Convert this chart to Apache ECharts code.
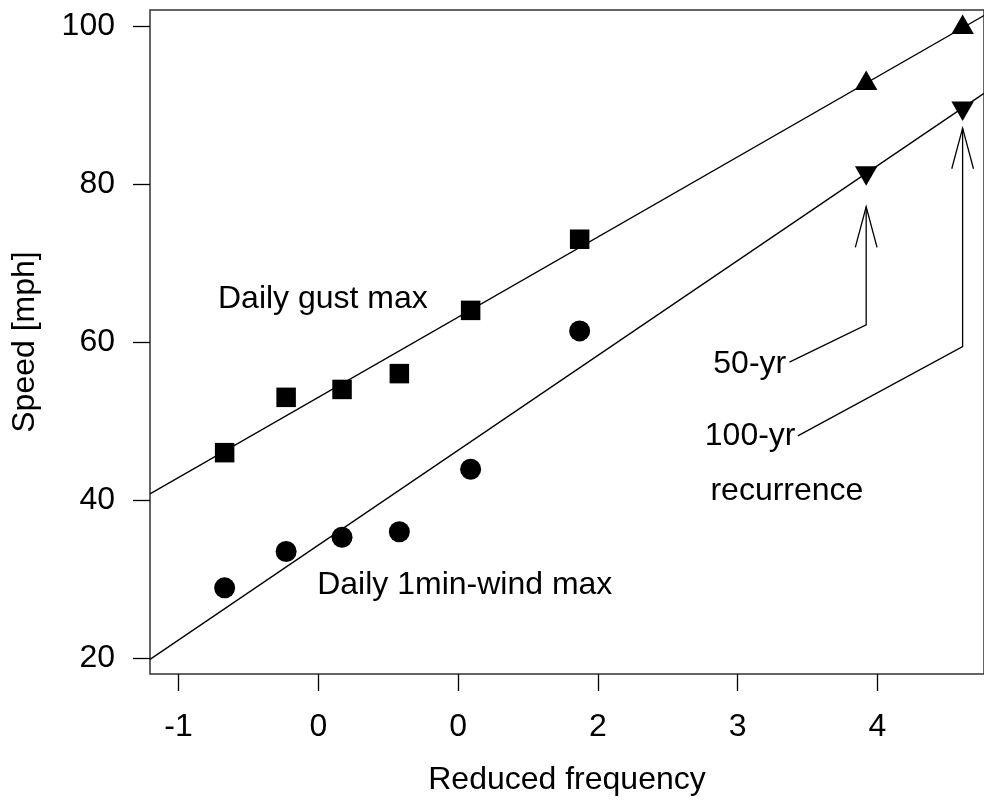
<!DOCTYPE html>
<html>
<head>
<meta charset="utf-8">
<script src="https://cdn.jsdelivr.net/npm/echarts@6/dist/echarts.min.js"></script>
<style>
  html, body { margin: 0; padding: 0; background: #fff; }
  #chart { width: 984px; height: 805px; }
</style>
</head>
<body>
<div id="chart"></div>
<script>
// ---- data ----
const xTickValues = [-1, 0, 1, 2, 3, 4];
const xTickLabels = ['-1', '0', '0', '2', '3', '4'];
const yTickValues = [20, 40, 60, 80, 100];
const yTickLabels = ['20', '40', '60', '80', '100'];

const reducedFreq = [-0.67, -0.23, 0.17, 0.58, 1.09, 1.87];
const gustMax = [46, 53, 54, 56, 64, 73];
const windMax = [28.9, 33.5, 35.3, 36.0, 43.9, 61.4];

const recurrenceX = [3.92, 4.61];
const gustRecurrence = [92.7, 99.8];
const windRecurrence = [81.4, 89.6];

const gustFit = { intercept: 53.0, slope: 10.14 };
const windFit = { intercept: 34.3, slope: 12.0 };

const annotationTexts = ['Daily gust max', 'Daily 1min-wind max', '50-yr', '100-yr', 'recurrence'];
const annotationX = [0.033, 1.048, 3.087, 3.09, 3.353];
const annotationY = [65.46, 29.19, 57.2, 48.04, 41.17];

const arrow50 = [[3.371, 57.45], [3.92, 62.17], [3.92, 77.1]];
const arrow100 = [[3.431, 48.13], [4.61, 59.42], [4.61, 87.05]];

const xMin = -1.204, xMax = 4.763, yMin = 18, yMax = 102;

// ---- chart ----
const FONT = '"Liberation Sans", Arial, Helvetica, sans-serif';
const FS = 32;
const zip = (xs, ys) => xs.map((x, i) => [x, ys[i]]);
const fitLine = f => [[xMin, f.intercept + f.slope * xMin], [xMax, f.intercept + f.slope * xMax]];

const chart = echarts.init(document.getElementById('chart'), null, { renderer: 'canvas' });
chart.setOption({
  animation: false,
  backgroundColor: '#ffffff',
  textStyle: { fontFamily: FONT },
  grid: {
    left: 150, right: -5, top: 10, bottom: 131,
    show: true, borderColor: '#333', borderWidth: 1.5, backgroundColor: 'transparent'
  },
  xAxis: {
    type: 'value', min: xMin, max: xMax,
    name: 'Reduced frequency', nameLocation: 'middle', nameGap: 90,
    nameTextStyle: { fontSize: FS, color: '#000', fontFamily: FONT },
    axisLine: { show: false, onZero: false },
    splitLine: { show: false },
    axisTick: { show: true, inside: false, length: 17, customValues: xTickValues,
      lineStyle: { color: '#000', width: 1.3 } },
    axisLabel: { show: true, margin: 37, fontSize: FS, color: '#000', fontFamily: FONT,
      customValues: xTickValues,
      formatter: v => { const i = xTickValues.findIndex(t => Math.abs(t - v) < 1e-9); return i >= 0 ? xTickLabels[i] : ''; } }
  },
  yAxis: {
    type: 'value', min: yMin, max: yMax,
    name: 'Speed [mph]', nameLocation: 'middle', nameGap: 109, nameRotate: 90,
    nameTextStyle: { fontSize: FS, color: '#000', fontFamily: FONT },
    axisLine: { show: false, onZero: false },
    splitLine: { show: false },
    axisTick: { show: true, inside: false, length: 17, customValues: yTickValues,
      lineStyle: { color: '#000', width: 1.3 } },
    axisLabel: { show: true, margin: 35, fontSize: FS, color: '#000', fontFamily: FONT,
      customValues: yTickValues,
      formatter: v => { const i = yTickValues.findIndex(t => Math.abs(t - v) < 1e-9); return i >= 0 ? yTickLabels[i] : ''; } }
  },
  series: [
    { type: 'line', data: fitLine(gustFit), showSymbol: false, clip: true,
      lineStyle: { color: '#000', width: 1.3 }, silent: true },
    { type: 'line', data: fitLine(windFit), showSymbol: false, clip: true,
      lineStyle: { color: '#000', width: 1.3 }, silent: true },
    { type: 'scatter', data: zip(reducedFreq, gustMax), symbol: 'rect', symbolSize: 19.5,
      itemStyle: { color: '#000', opacity: 1 } },
    { type: 'scatter', data: zip(reducedFreq, windMax), symbol: 'circle', symbolSize: 21,
      itemStyle: { color: '#000', opacity: 1 } },
    { type: 'scatter', data: zip(recurrenceX, gustRecurrence), symbol: 'triangle', symbolSize: [22.5, 19.5],
      symbolOffset: [0, -3.2], itemStyle: { color: '#000', opacity: 1 } },
    { type: 'scatter', data: zip(recurrenceX, windRecurrence), symbol: 'triangle', symbolSize: [22.5, 19.5],
      symbolRotate: 180, symbolOffset: [0, 3.2], itemStyle: { color: '#000', opacity: 1 } },
    { type: 'custom', clip: false, silent: true,
      data: [0, 1].map(i => [i]),
      renderItem: (params, api) => {
        const path = [arrow50, arrow100][params.dataIndex];
        const pts = path.map(p => api.coord(p));
        const tip = pts[pts.length - 1], prev = pts[pts.length - 2];
        const ang = Math.atan2(tip[1] - prev[1], tip[0] - prev[0]);
        const L = 42, a = 15 * Math.PI / 180;
        const b1 = [tip[0] - L * Math.cos(ang - a), tip[1] - L * Math.sin(ang - a)];
        const b2 = [tip[0] - L * Math.cos(ang + a), tip[1] - L * Math.sin(ang + a)];
        const st = { stroke: '#000', lineWidth: 1.3, fill: null };
        return { type: 'group', children: [
          { type: 'polyline', shape: { points: pts }, style: st },
          { type: 'polyline', shape: { points: [b1, tip, b2] }, style: st }
        ] };
      } },
    { type: 'custom', clip: false, silent: true,
      data: annotationTexts.map((t, i) => [annotationX[i], annotationY[i]]),
      renderItem: (params, api) => {
        const p = api.coord([api.value(0), api.value(1)]);
        return { type: 'text', x: p[0], y: p[1],
          style: { text: annotationTexts[params.dataIndex], fill: '#000',
            fontSize: FS, fontFamily: FONT, align: 'center', verticalAlign: 'middle' } };
      } }
  ]
});
</script>
</body>
</html>
